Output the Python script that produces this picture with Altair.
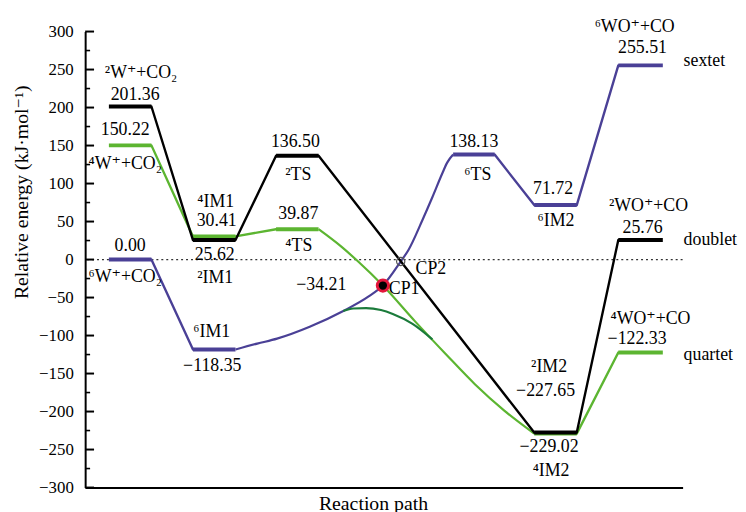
import altair as alt
import pandas as pd

FONT = "'Liberation Serif', 'Times New Roman', Times, 'DejaVu Serif', serif"

# ---------------- data ----------------
stages = ["R", "IM1", "TS", "IM2", "P"]
# reaction-coordinate spans of the energy levels
level_start = [2.4, 10.9, 19.3, 45.4, 53.9]
level_end = [6.7, 15.2, 23.6, 49.7, 58.4]
sextet_ts_span = [37.2, 41.4]
x_domain = [0, 60.4]

doublet_E = [201.36, 25.62, 136.50, -227.65, 25.76]
quartet_E = [150.22, 30.41, 39.87, -229.02, -122.33]
sextet_E = [0.00, -118.35, 138.13, 71.72, 255.51]

sextet_curve_x = [15.2, 17.4, 19.4, 22.7, 26.1, 28.7, 30.1, 31.9, 32.7, 34.1, 35.1, 36.1, 36.6, 37.2]
sextet_curve_E = [-118.35, -110.6, -104.1, -88.5, -67.7, -48.2, -34.21, -2.6, 13.0, 52.1, 82.0, 113.2, 127.5, 138.13]
quartet_curve_x = [23.6, 25.9, 27.6, 30.1, 33.4, 36.4, 39.4, 42.4, 45.4]
quartet_curve_E = [39.87, 16.9, -2.6, -34.21, -82.0, -123.6, -164.0, -199.1, -229.02]
mecp_curve_x = [26.1, 27.1, 28.4, 29.9, 31.1, 33.1, 35.1]
mecp_curve_E = [-67.7, -64.4, -63.8, -66.4, -71.6, -84.6, -105.0]

cp1 = {"u": 30.1, "E": -34.21}
cp2 = {"u": 31.9, "E": -2.6}

y_major = list(range(-300, 301, 50))
y_minor = list(range(-275, 276, 50))

COLORS = {"doublet": "#000000", "quartet": "#5cb531", "sextet": "#4a4096", "mecp": "#1b7b3b"}

# ---------------- helpers ----------------
xs = alt.Scale(domain=x_domain, nice=False, zero=False)
ys = alt.Scale(domain=[-300, 300], nice=False, zero=False)

x_axis = alt.Axis(labels=False, ticks=False, grid=False, domainWidth=2, domainColor="black",
                  title="Reaction path", titleFont=FONT, titleFontSize=20, titleFontWeight="normal",
                  titleColor="black", titleX=291, titleY=6, titleAlign="center", titleBaseline="top")
y_axis = alt.Axis(values=y_major, ticks=False, tickSize=0, grid=False, domainWidth=2, domainColor="black",
                  labelFont=FONT, labelFontSize=17, labelColor="black", labelPadding=12,
                  labelFlush=False, labelOverlap=False,
                  title="Relative energy (kJ·mol⁻¹)", titleFont=FONT, titleFontSize=20,
                  titleFontWeight="normal", titleColor="black", titleX=-64, titleY=162,
                  titleAngle=270, titleAlign="center", titleBaseline="middle")


def X(field="u"):
    return alt.X(f"{field}:Q", scale=xs, axis=x_axis)


def Y(field="E"):
    return alt.Y(f"{field}:Q", scale=ys, axis=y_axis)


energies = {"doublet": doublet_E, "quartet": quartet_E, "sextet": sextet_E}


def span(series, i):
    if series == "sextet" and i == 2:
        return sextet_ts_span[0], sextet_ts_span[1]
    return level_start[i], level_end[i]


def center(series, i):
    a, b = span(series, i)
    return (a + b) / 2


def fmt(v):
    return f"{v:.2f}".replace("-", "−")


layers = []

# zero reference line
layers.append(
    alt.Chart(pd.DataFrame({"E": [0]})).mark_rule(color="#333333", strokeWidth=1.2, strokeDash=[2, 3])
    .encode(y=Y())
)

# inward ticks on the y axis
layers.append(
    alt.Chart(pd.DataFrame({"E": y_major})).mark_rule(color="black", strokeWidth=2)
    .encode(y=Y(), x=alt.value(0), x2=alt.value(9))
)
layers.append(
    alt.Chart(pd.DataFrame({"E": y_minor})).mark_rule(color="black", strokeWidth=1.6)
    .encode(y=Y(), x=alt.value(0), x2=alt.value(5))
)

straight_links = {"doublet": [0, 1, 2, 3], "quartet": [0, 1, 3], "sextet": [0, 2, 3]}
curves = {"sextet": (sextet_curve_x, sextet_curve_E), "quartet": (quartet_curve_x, quartet_curve_E)}


def series_layers(series):
    out = []
    E = energies[series]
    col = COLORS[series]
    rows = []
    for i in straight_links[series]:
        a = span(series, i)[1]
        b = span(series, i + 1)[0]
        rows.append({"u": a, "E": E[i], "seg": i, "k": 0})
        rows.append({"u": b, "E": E[i + 1], "seg": i, "k": 1})
    out.append(
        alt.Chart(pd.DataFrame(rows)).mark_line(color=col, strokeWidth=2.4, strokeCap="round")
        .encode(x=X(), y=Y(), detail="seg:N", order="k:Q")
    )
    if series in curves:
        cx, cE = curves[series]
        out.append(
            alt.Chart(pd.DataFrame({"u": cx, "E": cE, "k": list(range(len(cx)))}))
            .mark_line(color=col, strokeWidth=2.2, interpolate="monotone")
            .encode(x=X(), y=Y(), order="k:Q")
        )
    lv = []
    for i in range(len(stages)):
        a, b = span(series, i)
        lv.append({"u": a, "u2": b, "E": E[i], "stage": stages[i]})
    out.append(
        alt.Chart(pd.DataFrame(lv)).mark_rule(color=col, strokeWidth=4, strokeCap="butt")
        .encode(x=X(), x2="u2:Q", y=Y())
    )
    return out


layers += series_layers("sextet")
layers += series_layers("quartet")
layers.append(
    alt.Chart(pd.DataFrame({"u": mecp_curve_x, "E": mecp_curve_E, "k": list(range(len(mecp_curve_x)))}))
    .mark_line(color=COLORS["mecp"], strokeWidth=2.2, interpolate="monotone")
    .encode(x=X(), y=Y(), order="k:Q")
)
layers += series_layers("doublet")

# crossing points
layers.append(
    alt.Chart(pd.DataFrame([cp2])).mark_point(shape="circle", filled=False, size=70, color="#555555",
                                             stroke="#555555", strokeWidth=1.2, opacity=1)
    .encode(x=X(), y=Y())
)
layers.append(
    alt.Chart(pd.DataFrame([cp1])).mark_point(shape="circle", filled=True, size=130, fill="black",
                                             stroke="#e3173c", strokeWidth=3, opacity=1)
    .encode(x=X(), y=Y())
)

# ---------------- labels ----------------
LABEL_SIZE = 18
# (text, series, stage index, dx, dy)
label_specs = [
    ("²W⁺+CO₂", "doublet", 0, 11, -34),
    (None, "doublet", 0, 5, -12),
    (None, "quartet", 0, -5, -15),
    ("⁴W⁺+CO₂", "quartet", 0, -5, 19),
    (None, "sextet", 0, 0, -14),
    ("⁶W⁺+CO₂", "sextet", 0, -5, 18),
    ("⁴IM1", "quartet", 1, 1.5, -35),
    (None, "quartet", 1, 2.5, -16),
    (None, "doublet", 1, 0.5, 15),
    ("²IM1", "doublet", 1, 1, 38),
    ("⁶IM1", "sextet", 1, -2.5, -18),
    (None, "sextet", 1, -2, 16.5),
    (None, "doublet", 2, -2, -14),
    ("²TS", "doublet", 2, 1, 19),
    (None, "quartet", 2, 1, -15.5),
    ("⁴TS", "quartet", 2, 1.5, 17),
    (None, "sextet", 2, 0, -13),
    ("⁶TS", "sextet", 2, 4, 21),
    (None, "sextet", 3, -2.5, -16.5),
    ("⁶IM2", "sextet", 3, 0.5, 16.5),
    ("²IM2", "doublet", 3, -6.5, -66),
    (None, "doublet", 3, -10, -42),
    (None, "quartet", 3, -6.5, 14),
    ("⁴IM2", "quartet", 3, -4.5, 38),
    ("⁶WO⁺+CO", "sextet", 4, -6, -39),
    (None, "sextet", 4, 2, -17),
    ("²WO⁺+CO", "doublet", 4, 8, -34),
    (None, "doublet", 4, 2, -12),
    ("⁴WO⁺+CO", "quartet", 4, 10, -34),
    (None, "quartet", 4, -3.5, -14),
]

for text, series, i, dx, dy in label_specs:
    E = energies[series][i]
    t = text if text is not None else fmt(E)
    layers.append(
        alt.Chart(pd.DataFrame({"u": [center(series, i)], "E": [E], "t": [t]}))
        .mark_text(font=FONT, fontSize=LABEL_SIZE, color="black", align="center", baseline="middle",
                   dx=dx, dy=dy)
        .encode(x=X(), y=Y(), text="t:N")
    )

layers.append(
    alt.Chart(pd.DataFrame({"u": [cp1["u"]], "E": [cp1["E"]], "t": [fmt(cp1["E"])]}))
    .mark_text(font=FONT, fontSize=LABEL_SIZE, color="black", align="right", baseline="middle", dx=-37, dy=0)
    .encode(x=X(), y=Y(), text="t:N")
)
layers.append(
    alt.Chart(pd.DataFrame({"u": [cp1["u"]], "E": [cp1["E"]], "t": ["CP1"]}))
    .mark_text(font=FONT, fontSize=LABEL_SIZE, color="black", align="left", baseline="middle", dx=6, dy=4)
    .encode(x=X(), y=Y(), text="t:N")
)
layers.append(
    alt.Chart(pd.DataFrame({"u": [cp2["u"]], "E": [cp2["E"]], "t": ["CP2"]}))
    .mark_text(font=FONT, fontSize=LABEL_SIZE, color="black", align="left", baseline="middle", dx=15, dy=8)
    .encode(x=X(), y=Y(), text="t:N")
)

for name, dy in [("sextet", -4), ("doublet", 0), ("quartet", 3)]:
    layers.append(
        alt.Chart(pd.DataFrame({"u": [x_domain[1]], "E": [energies[name][4]], "t": [name]}))
        .mark_text(font=FONT, fontSize=18, color="black", align="left", baseline="middle", dx=1, dy=dy)
        .encode(x=X(), y=Y(), text="t:N")
    )

chart = (
    alt.layer(*layers)
    .properties(width=604, height=461, autosize=alt.AutoSizeParams(type="none"),
                padding={"left": 78, "top": 21, "right": 56, "bottom": 30})
    .configure_view(strokeWidth=0)
)

chart.save("out.html", embed_options={"renderer": "svg", "actions": False})
